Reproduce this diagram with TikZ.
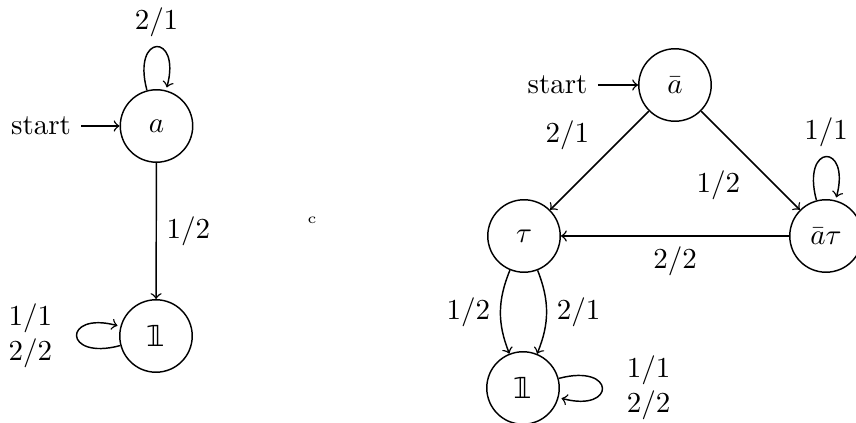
\documentclass[tikz,border=0pt]{standalone}
\usepackage{fontspec}
\newfontfamily\dejavu{DejaVu Sans}
\newcommand{\onebb}{{\dejavu\symbol{"1D7D9}}}
\begin{document}
\begin{tikzpicture}[x=0.345pt,y=0.345pt,line width=0.5pt,
  st/.style={circle,draw,minimum size=25pt,inner sep=0pt},
  every edge/.style={draw,->}]
\useasboundingbox (0,0) rectangle (856,423);
% left automaton
\node[st] (a) at (156.5,297) {$a$};
\node[st] (one1) at (156,87) {\onebb};
\node (starta) at (41,297) {start};
\draw[->] (starta) -- (a);
\path (a) edge[loop above] node {$2/1$} ()
      (a) edge node[right] {$1/2$} (one1)
      (one1) edge[loop left] node[left,xshift=-5pt,align=center] {$1/1$\\$2/2$} ();
% stray mark
\node[inner sep=0pt,font=\fontsize{5}{5}\selectfont] (mark) at (312,203) {c};
% right automaton
\node[st] (ab) at (675,338) {$\bar a$};
\node[st] (tau) at (524,187) {$\tau$};
\node[st] (abt) at (826,187) {$\bar a\tau$};
\node[st] (one2) at (523,35) {\onebb};
\node (startb) at (557.5,338) {start};
\draw[->] (startb) -- (ab);
\path (ab) edge node[above left] {$2/1$} (tau)
      (ab) edge node[below left] {$1/2$} (abt)
      (abt) edge[loop above] node {$1/1$} ()
      (abt) edge node[below] {$2/2$} (tau)
      (tau) edge[bend right=22] node[left] {$1/2$} (one2)
      (tau) edge[bend left=22] node[right] {$2/1$} (one2)
      (one2) edge[loop right] node[right,xshift=5pt,align=center] {$1/1$\\$2/2$} ();
\end{tikzpicture}
\end{document}
